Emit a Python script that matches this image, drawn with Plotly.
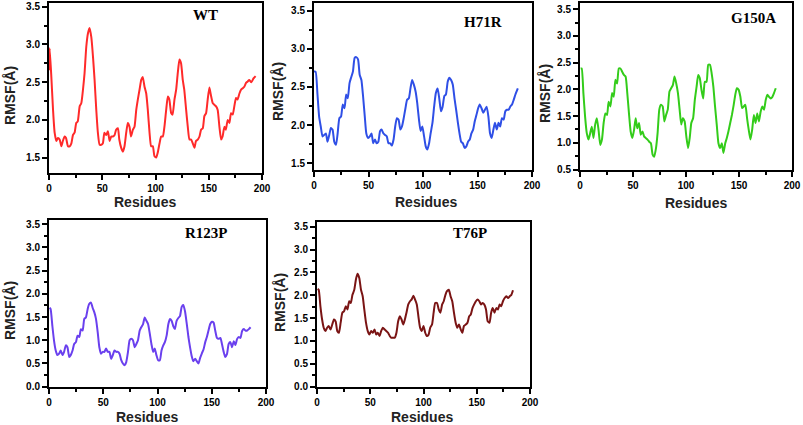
import plotly.graph_objects as go

# ---------------- data ----------------
panel_names = ["WT", "H71R", "G150A", "R123P", "T76P"]

wt_res = [0, 0.6, 2.2, 3.8, 5.3, 6.9, 8.4, 10, 11.6, 13,
          14.7, 16, 17.8, 19.4, 21, 22.5, 24, 25.6, 27, 28.8,
          30.3, 31.9, 33.4, 35, 36.6, 38.1, 39.7, 41.3, 42.8, 44.4,
          45.9, 47.5, 49, 50.6, 52, 53.8, 55.3, 56.9, 58.4, 60,
          61.6, 63, 64.7, 66, 67.8, 69.4, 70.9, 72.5, 74, 75.6,
          77, 78.8, 80.3, 81.9, 83.4, 85, 86.6, 88, 89.7, 91.3,
          92.8, 94.4, 95.9, 97.5, 99, 100.6, 102, 103.8, 105.3, 106.9,
          108.4, 110, 111.6, 113, 114.7, 116, 117.8, 119.4, 120.9, 122.5,
          124, 125.6, 127, 128.8, 130.3, 131.9, 133.4, 135, 136.6, 138,
          139.7, 141.3, 142.8, 144.4, 145.9, 147.5, 149, 150.6, 152, 153.8,
          155.3, 156.9, 158.4, 160, 161.6, 163, 164.7, 166, 167.8, 169.4,
          170.9, 172.5, 174, 175.6, 177, 178.8, 180.3, 181.9, 183.4, 185,
          186.6, 188, 190, 192, 194]
wt_rmsf = [2.66, 2.95, 2.57, 2.13, 1.83, 1.72, 1.76, 1.74, 1.65, 1.72,
           1.78, 1.76, 1.65, 1.65, 1.69, 1.80, 1.83, 1.96, 1.98, 2.18,
           2.22, 2.40, 2.62, 2.97, 3.15, 3.22, 3.10, 2.84, 2.53, 2.13,
           1.83, 1.67, 1.67, 1.69, 1.83, 1.80, 1.85, 1.72, 1.78, 1.78,
           1.80, 1.87, 1.89, 1.74, 1.63, 1.58, 1.65, 1.83, 1.96, 1.91,
           1.78, 1.87, 1.91, 2.13, 2.27, 2.40, 2.53, 2.57, 2.44, 2.35,
           2.13, 1.83, 1.65, 1.65, 1.52, 1.50, 1.56, 1.69, 1.78, 1.78,
           1.91, 2.13, 2.31, 2.27, 2.09, 2.07, 2.27, 2.40, 2.62, 2.80,
           2.75, 2.53, 2.40, 2.13, 1.91, 1.74, 1.74, 1.69, 1.63, 1.72,
           1.74, 1.78, 1.87, 1.89, 2.05, 2.09, 2.27, 2.43, 2.33, 2.22,
           2.20, 2.18, 2.13, 1.91, 1.74, 1.78, 1.91, 1.87, 2.00, 1.96,
           2.09, 2.07, 2.18, 2.29, 2.27, 2.35, 2.40, 2.42, 2.44, 2.49,
           2.51, 2.53, 2.50, 2.55, 2.58]

h71r_res = [0, 1.5, 3.1, 4.7, 6.2, 7.8, 9.3, 10.9, 12.4, 14,
            15.5, 17, 18.6, 20.2, 21.7, 23.3, 24.8, 26.4, 28, 29.5,
            31, 32.6, 34, 35.7, 37.3, 38.8, 40.4, 41.9, 43.5, 45,
            46.6, 48, 49.7, 51.2, 52.8, 54.3, 55.9, 57.5, 59, 60.6,
            62, 63.7, 65.2, 66.8, 68.3, 69.9, 71.4, 73, 74.5, 76,
            77.6, 79.2, 80.7, 82.3, 83.9, 85.4, 87, 88.5, 90, 91.6,
            93.2, 94.7, 96.3, 97.8, 99.4, 101, 102.5, 104, 105.6, 107,
            108.7, 110.2, 111.8, 113.4, 114.9, 116.5, 118, 119.6, 121, 122.7,
            124.2, 125.8, 127.3, 128.9, 130.4, 132, 133.5, 135, 136.6, 138.2,
            139.8, 141.3, 142.9, 144.4, 146, 147.5, 149, 150.6, 152, 153.7,
            155.3, 156.8, 158.4, 160, 161.5, 163, 164.6, 166, 167.7, 169.3,
            170.8, 172.4, 174, 175.5, 177, 178.6, 180, 181.7, 183.2, 184.8,
            187]
h71r_rmsf = [2.70, 2.70, 2.42, 2.11, 1.98, 1.85, 1.87, 1.89, 1.78, 1.87,
             1.96, 1.94, 1.78, 1.74, 1.89, 2.09, 2.11, 2.27, 2.22, 2.40,
             2.35, 2.55, 2.62, 2.70, 2.88, 2.89, 2.86, 2.66, 2.59, 2.38,
             2.11, 1.89, 1.83, 1.85, 1.89, 1.76, 1.81, 1.76, 1.78, 1.92,
             1.94, 1.89, 1.87, 1.85, 1.76, 1.76, 1.73, 1.81, 1.98, 2.09,
             2.07, 1.94, 1.98, 2.09, 2.22, 2.33, 2.35, 2.48, 2.59, 2.53,
             2.44, 2.29, 2.07, 1.92, 1.98, 1.85, 1.72, 1.68, 1.76, 1.89,
             2.03, 2.24, 2.42, 2.48, 2.35, 2.18, 2.24, 2.38, 2.40, 2.57,
             2.62, 2.59, 2.53, 2.35, 2.20, 2.03, 1.89, 1.78, 1.76, 1.70,
             1.72, 1.78, 1.81, 1.89, 1.94, 2.05, 2.13, 2.22, 2.27, 2.22,
             2.16, 2.20, 2.24, 2.11, 1.89, 1.83, 1.94, 2.03, 1.94, 2.03,
             1.98, 2.09, 2.07, 2.18, 2.20, 2.20, 2.24, 2.27, 2.33, 2.40,
             2.48]

g150a_res = [0.6, 1.6, 3.2, 4.8, 6.4, 8, 9.6, 11.1, 12.7, 14.3,
             15.9, 17.5, 19.1, 20.7, 22.3, 23.9, 25.5, 27, 28.7, 30.3,
             31.8, 33.4, 35, 36.6, 38.2, 39.8, 41.4, 43, 44.6, 46.2,
             47.8, 49.4, 51, 52.5, 54, 55.7, 57.3, 59, 60.5, 62,
             63.7, 65.3, 66.9, 68.5, 70, 71.7, 73.2, 74.8, 76.4, 78,
             79.6, 81.2, 82.8, 84.4, 86, 87.6, 89.2, 90.8, 92.4, 94,
             95.5, 97, 98.7, 100.3, 102, 103.5, 105, 106.7, 108.3, 110,
             111.5, 113, 114.6, 116.2, 117.8, 119.4, 121, 122.6, 124.2, 125.8,
             127.4, 129, 130.6, 132.2, 133.8, 135.3, 137, 138.5, 140, 141.7,
             143.3, 145, 146.5, 148, 149.7, 151.3, 152.9, 154.5, 156, 157.6,
             159.2, 160.8, 162.4, 164, 165.6, 167.2, 168.8, 170.4, 172, 173.6,
             175.2, 176.8, 178.3, 179.9, 181.5, 183, 184.7]
g150a_rmsf = [2.39, 2.39, 1.93, 1.49, 1.18, 1.06, 1.18, 1.30, 1.09, 1.34,
              1.46, 1.24, 0.96, 1.06, 1.37, 1.55, 1.52, 1.77, 1.68, 1.93,
              1.86, 2.18, 2.11, 2.39, 2.39, 2.33, 2.27, 2.24, 1.93, 1.55,
              1.21, 1.09, 1.24, 1.46, 1.27, 1.37, 1.15, 1.21, 1.12, 1.09,
              1.06, 1.02, 0.99, 0.78, 0.74, 0.90, 1.18, 1.62, 1.71, 1.68,
              1.40, 1.52, 1.62, 1.96, 2.02, 2.08, 2.24, 2.11, 1.93, 1.62,
              1.34, 1.46, 1.40, 1.12, 0.90, 1.09, 1.37, 1.46, 1.80, 2.05,
              2.27, 2.21, 1.99, 1.83, 2.14, 2.14, 2.46, 2.46, 2.30, 2.05,
              1.68, 1.34, 0.99, 0.90, 0.99, 0.81, 0.99, 1.09, 1.21, 1.37,
              1.52, 1.71, 1.90, 2.02, 1.99, 1.86, 1.65, 1.68, 1.71, 1.46,
              1.24, 1.06, 1.24, 1.52, 1.37, 1.55, 1.40, 1.58, 1.68, 1.62,
              1.80, 1.90, 1.86, 1.83, 1.86, 1.93, 2.02]

r123p_res = [0.6, 1.5, 3.1, 4.6, 6.2, 7.7, 9.3, 10.8, 12.4, 13.9,
             15.5, 17, 18.6, 20, 21.7, 23.2, 24.8, 26.3, 27.9, 29.4,
             31, 32.5, 34, 35.6, 37, 38.7, 40.2, 41.8, 43.3, 44.9,
             46.4, 48, 49.5, 51, 52.6, 54.2, 55.7, 57.3, 58.8, 60.4,
             62, 63.5, 65, 66.6, 68.1, 69.7, 71.2, 72.8, 74.3, 75.9,
             77.4, 79, 80.5, 82, 83.6, 85, 86.7, 88.2, 89.8, 91.3,
             92.9, 94.4, 96, 97.5, 99, 100.6, 102.2, 103.7, 105.3, 106.8,
             108.4, 110, 111.5, 113, 114.6, 116, 117.6, 119.2, 120.7, 122.3,
             123.8, 125.4, 127, 128.5, 130, 131.6, 133, 134.7, 136.2, 137.8,
             139.3, 140.9, 142.4, 144, 145.5, 147, 148.6, 150.2, 151.7, 153.2,
             154.8, 156.3, 158, 159.4, 161, 162.5, 164, 165.6, 167.2, 168.7,
             170.3, 171.8, 173.4, 175, 176.5, 178, 179.6, 181, 182.7, 184.2,
             185.8]
r123p_rmsf = [1.70, 1.67, 1.31, 1.00, 0.78, 0.68, 0.71, 0.78, 0.68, 0.75,
              0.89, 0.85, 0.64, 0.68, 0.78, 0.92, 0.96, 1.10, 1.07, 1.24,
              1.21, 1.46, 1.49, 1.67, 1.78, 1.81, 1.70, 1.60, 1.46, 1.17,
              0.85, 0.71, 0.75, 0.75, 0.82, 0.75, 0.75, 0.60, 0.68, 0.78,
              0.75, 0.75, 0.71, 0.57, 0.50, 0.46, 0.53, 0.75, 1.00, 1.03,
              1.00, 0.85, 0.92, 1.00, 1.21, 1.28, 1.35, 1.49, 1.42, 1.35,
              1.14, 0.92, 0.75, 0.82, 0.68, 0.57, 0.57, 0.78, 0.89, 0.96,
              1.10, 1.35, 1.46, 1.42, 1.30, 1.24, 1.42, 1.48, 1.52, 1.72,
              1.76, 1.62, 1.35, 1.07, 0.85, 0.65, 0.55, 0.60, 0.55, 0.50,
              0.62, 0.72, 0.80, 0.96, 1.07, 1.21, 1.35, 1.40, 1.38, 1.21,
              1.05, 1.03, 1.05, 0.92, 0.75, 0.64, 0.70, 0.92, 0.96, 0.85,
              0.98, 0.90, 1.03, 1.07, 1.05, 1.20, 1.24, 1.21, 1.21, 1.24,
              1.28]

t76p_res = [0.6, 1.6, 3.2, 4.8, 6.3, 7.9, 9.5, 11, 12.7, 14.3,
            15.9, 17.5, 19, 20.6, 22.2, 23.8, 25.4, 27, 28.6, 30.2,
            31.7, 33.3, 35, 36.5, 38, 39.7, 41.3, 42.9, 44.4, 46,
            47.6, 49.2, 50.8, 52.4, 54, 55.6, 57, 58.7, 60.3, 61.9,
            63.5, 65, 66.7, 68.3, 69.8, 71.4, 73, 74.6, 76.2, 77.8,
            79.4, 81, 82.5, 84, 85.7, 87.3, 88.9, 90.5, 92, 93.7,
            95.2, 96.8, 98.4, 100, 101.6, 103, 104.8, 106.3, 108, 109.5,
            111, 112.7, 114.3, 115.9, 117.5, 119, 120.6, 122, 123.8, 125.4,
            127, 128.6, 130.2, 131.7, 133.3, 135, 136.5, 138, 139.7, 141.3,
            142.9, 144.4, 146, 147.6, 149.2, 150.8, 152.4, 154, 155.5, 157,
            158.7, 160.3, 162, 163.5, 165, 166.7, 168.3, 170, 171.4, 173,
            174.6, 176.2, 177.8, 179.4, 181, 182.5, 184]
t76p_rmsf = [2.14, 2.12, 1.76, 1.47, 1.29, 1.22, 1.29, 1.33, 1.25, 1.36,
             1.47, 1.43, 1.22, 1.18, 1.40, 1.62, 1.65, 1.76, 1.69, 1.87,
             1.83, 2.01, 2.12, 2.34, 2.47, 2.38, 2.12, 1.98, 1.69, 1.40,
             1.22, 1.14, 1.22, 1.18, 1.25, 1.14, 1.18, 1.11, 1.22, 1.29,
             1.25, 1.22, 1.18, 1.11, 1.07, 1.07, 1.07, 1.18, 1.43, 1.54,
             1.47, 1.36, 1.47, 1.62, 1.80, 1.87, 1.91, 1.99, 1.91, 1.80,
             1.54, 1.29, 1.22, 1.33, 1.18, 1.11, 1.14, 1.29, 1.36, 1.62,
             1.83, 1.83, 1.69, 1.62, 1.80, 1.87, 2.01, 2.09, 2.12, 1.98,
             1.87, 1.62, 1.40, 1.29, 1.36, 1.25, 1.18, 1.33, 1.36, 1.40,
             1.54, 1.58, 1.72, 1.80, 1.87, 1.91, 1.87, 1.80, 1.83, 1.80,
             1.69, 1.43, 1.40, 1.62, 1.72, 1.62, 1.72, 1.69, 1.80, 1.76,
             1.87, 1.94, 1.98, 1.94, 1.98, 2.01, 2.11]

x_tickvals = [0, 50, 100, 150, 200]
y_tickvals_top = [1.5, 2.0, 2.5, 3.0, 3.5]
y_tickvals_g150a = [0.5, 1.0, 1.5, 2.0, 2.5, 3.0, 3.5]
y_tickvals_bottom = [0.0, 0.5, 1.0, 1.5, 2.0, 2.5, 3.0, 3.5]
x_title = "Residues"
y_title = "RMSF(Å)"

# ---------------- layout (pixel boxes of each panel) ----------------
W, H = 803, 425
colors = ["#ff2a2a", "#2f4fe6", "#33cc1a", "#6a40ee", "#7a1414"]
series = [(wt_res, wt_rmsf), (h71r_res, h71r_rmsf), (g150a_res, g150a_rmsf),
          (r123p_res, r123p_rmsf), (t76p_res, t76p_rmsf)]
# left, right, top, bottom in px
boxes = [(49, 262, 3, 172.7), (314, 532, 3, 170), (580, 792, 3.3, 169.5),
         (49, 266, 220, 386.7), (317, 530, 221.7, 386.7)]
yranges = [(1.3, 3.55), (1.41, 3.6), (0.5, 3.61), (0.0, 3.59), (0.0, 3.61)]
yticks = [y_tickvals_top, y_tickvals_top, y_tickvals_g150a, y_tickvals_bottom, y_tickvals_bottom]
label_pos = [(205, 15), (483, 22), (753, 18), (207, 233), (470, 233)]
xtitle_pos = [(145, 202), (426, 202), (696, 203), (147, 417), (422, 417)]
ytitle_pos = [(10, 96), (278, 92), (545, 94), (10, 311), (280, 303)]

fig = go.Figure()
sans = "Liberation Sans, Arial, sans-serif"
tickfont = dict(family=sans, size=10, color="black", weight="bold")

for i, ((xs, ys), col, box, yr, yt, name) in enumerate(zip(series, colors, boxes, yranges, yticks, panel_names)):
    n = i + 1
    xa = "x" if n == 1 else f"x{n}"
    ya = "y" if n == 1 else f"y{n}"
    fig.add_trace(go.Scatter(x=xs, y=ys, mode="lines", name=name,
                             line=dict(color=col, width=2, shape="spline", smoothing=0.5),
                             xaxis=xa, yaxis=ya, showlegend=False, hoverinfo="skip"))
    l, r, t, b = box
    common = dict(showline=True, linecolor="black", linewidth=2, mirror=True,
                  ticks="outside", ticklen=5, tickwidth=1.5, tickcolor="black",
                  showgrid=False, zeroline=False, tickfont=tickfont, automargin=False)
    fig.layout[f"xaxis{'' if n == 1 else n}"] = dict(
        domain=[l / W, r / W], anchor=ya, range=[0, 200], tickvals=x_tickvals,
        minor=dict(ticks="outside", dtick=25, ticklen=3, tickwidth=1.5, tickcolor="black"),
        **common)
    fig.layout[f"yaxis{'' if n == 1 else n}"] = dict(
        domain=[1 - b / H, 1 - t / H], anchor=xa, range=list(yr), tickvals=yt,
        tickformat=".1f",
        minor=dict(ticks="outside", dtick=0.25, ticklen=3, tickwidth=1.5, tickcolor="black"),
        **common)
    lx, ly = label_pos[i]
    fig.add_annotation(x=lx / W, y=1 - ly / H, xref="paper", yref="paper",
                       text=f"<b>{name}</b>", showarrow=False, xanchor="center", yanchor="middle",
                       font=dict(family="Liberation Serif, Times New Roman, serif", size=15, color="black"))
    tx, ty = xtitle_pos[i]
    fig.add_annotation(x=tx / W, y=1 - ty / H, xref="paper", yref="paper",
                       text=f"<b>{x_title}</b>", showarrow=False, xanchor="center", yanchor="middle",
                       font=dict(family=sans, size=14, color="#222"))
    vx, vy = ytitle_pos[i]
    fig.add_annotation(x=vx / W, y=1 - vy / H, xref="paper", yref="paper", textangle=-90,
                       text=f"<b>{y_title}</b>", showarrow=False, xanchor="center", yanchor="middle",
                       font=dict(family=sans, size=14, color="#222"))

fig.update_layout(width=W, height=H, margin=dict(l=0, r=0, t=0, b=0), template="none",
                  paper_bgcolor="white", plot_bgcolor="white")
fig.write_html("out.html", config={"displayModeBar": False},
               post_script="document.body.style.margin='0';document.body.style.overflow='hidden';")
